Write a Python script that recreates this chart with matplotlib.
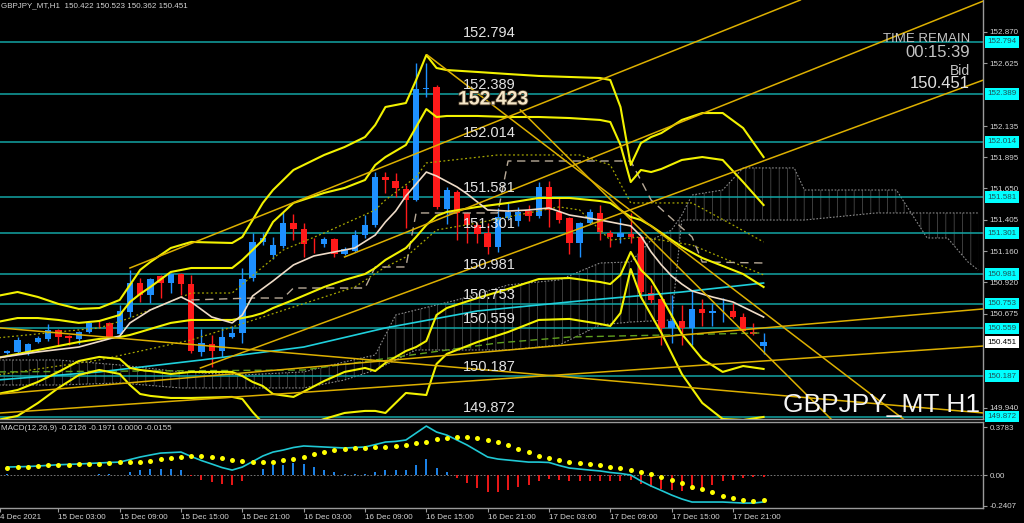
import matplotlib.pyplot as plt
import matplotlib.transforms as mtransforms
import matplotlib.patheffects as pe
import numpy as np

plt.rcParams['font.family'] = ['Liberation Sans', 'DejaVu Sans']
plt.rcParams['hatch.linewidth'] = 0.5
plt.rcParams['hatch.color'] = '#565656'

# ---- GBPJPY H1 candles, bar index -1 .. 74
bars = np.arange(-1, 75)
opens = [150.414, 150.368, 150.376, 150.376, 150.453, 150.477, 150.547, 150.500, 150.477, 150.531,
         150.605, 150.602, 150.516, 150.687, 150.913, 150.820, 150.968, 150.913, 150.983, 150.905,
         150.376, 150.438, 150.383, 150.492, 150.524, 150.952, 151.233, 151.132, 151.202, 151.381,
         151.334, 151.228, 151.217, 151.256, 151.139, 151.163, 151.287, 151.365, 151.739, 151.708,
         151.646, 151.560, 152.425, 152.441, 151.490, 151.623, 151.459, 151.365, 151.303, 151.194,
         151.420, 151.397, 151.474, 151.436, 151.662, 151.467, 151.420, 151.225, 151.381, 151.459,
         151.303, 151.272, 151.295, 151.272, 150.835, 150.789, 150.563, 150.617, 150.563, 150.711,
         150.679, 150.693, 150.695, 150.648, 150.531, 150.422]
highs = [150.430, 150.391, 150.492, 150.446, 150.500, 150.594, 150.555, 150.508, 150.539, 150.610,
         150.625, 150.610, 150.742, 151.015, 150.952, 150.952, 150.976, 150.990, 150.990, 150.976,
         150.555, 150.508, 150.570, 150.578, 151.030, 151.303, 151.303, 151.272, 151.467, 151.451,
         151.381, 151.264, 151.272, 151.264, 151.194, 151.326, 151.443, 151.778, 151.778, 151.771,
         151.677, 152.628, 152.628, 152.457, 151.660, 151.640, 151.470, 151.380, 151.381, 151.498,
         151.537, 151.506, 151.521, 151.700, 151.708, 151.576, 151.430, 151.390, 151.490, 151.521,
         151.326, 151.420, 151.459, 151.280, 150.898, 150.800, 150.820, 150.742, 150.859, 150.789,
         150.757, 150.796, 150.757, 150.679, 150.602, 150.523]
lows = [150.370, 150.360, 150.368, 150.352, 150.446, 150.461, 150.430, 150.430, 150.438, 150.524,
        150.563, 150.485, 150.508, 150.648, 150.765, 150.757, 150.796, 150.835, 150.820, 150.368,
        150.344, 150.259, 150.337, 150.485, 150.446, 150.929, 151.209, 151.100, 151.186, 151.248,
        151.116, 151.147, 151.194, 151.116, 151.132, 151.155, 151.264, 151.350, 151.615, 151.584,
        151.342, 151.550, 152.363, 151.490, 151.373, 151.248, 151.225, 151.225, 151.139, 151.155,
        151.410, 151.358, 151.397, 151.420, 151.350, 151.381, 151.139, 151.116, 151.370, 151.248,
        151.194, 151.225, 151.225, 150.796, 150.757, 150.430, 150.446, 150.430, 150.430, 150.578,
        150.578, 150.609, 150.640, 150.530, 150.508, 150.362]
closes = [150.383, 150.383, 150.469, 150.438, 150.485, 150.547, 150.492, 150.485, 150.531, 150.602,
          150.598, 150.492, 150.695, 150.913, 150.820, 150.944, 150.913, 150.983, 150.905, 150.385,
          150.446, 150.383, 150.492, 150.524, 150.944, 151.233, 151.264, 151.209, 151.381, 151.334,
          151.217, 151.222, 151.256, 151.139, 151.178, 151.287, 151.365, 151.739, 151.716, 151.654,
          151.560, 152.425, 152.433, 151.506, 151.638, 151.459, 151.365, 151.295, 151.194, 151.428,
          151.467, 151.467, 151.436, 151.662, 151.482, 151.404, 151.225, 151.381, 151.467, 151.311,
          151.272, 151.303, 151.272, 150.843, 150.781, 150.563, 150.617, 150.563, 150.711, 150.679,
          150.695, 150.697, 150.648, 150.539, 150.516, 150.451]

# ---- Bollinger bands (two deviations), read at these bars
bb_k = [-1, 1, 3, 5, 7, 9, 11, 12, 13, 14, 16, 18, 22, 23, 24, 25, 26, 28, 31, 33, 35, 36,
        37, 39, 40, 41, 42, 43, 46, 49, 52, 55, 58, 59, 60, 61, 62, 63, 64, 66, 68, 70, 72, 74]
bb_up3 = [150.812, 150.843, 150.804, 150.750, 150.711, 150.718, 150.781, 150.898, 151.015, 151.077, 151.186,
          151.233, 151.225, 151.272, 151.404, 151.537, 151.638, 151.794, 151.911, 151.973, 152.051, 152.145,
          152.285, 152.316, 152.495, 152.690, 152.589, 152.573, 152.558, 152.542, 152.527, 152.519, 152.511,
          152.495, 152.285, 151.833, 152.004, 152.051, 152.082, 152.184, 152.238, 152.238, 152.121, 151.895]
bb_up2 = [150.609, 150.640, 150.640, 150.625, 150.602, 150.617, 150.664, 150.765, 150.828, 150.882, 150.999,
          151.030, 151.030, 151.093, 151.170, 151.248, 151.389, 151.537, 151.615, 151.654, 151.716, 151.833,
          151.895, 151.989, 152.129, 152.269, 152.207, 152.215, 152.215, 152.207, 152.207, 152.199, 152.184,
          152.168, 151.989, 151.700, 151.794, 151.778, 151.802, 151.872, 151.895, 151.872, 151.700, 151.521]
bb_mid = [150.329, 150.360, 150.391, 150.422, 150.453, 150.477, 150.492, 150.508, 150.531, 150.555, 150.602,
          150.625, 150.625, 150.640, 150.656, 150.679, 150.718, 150.781, 150.882, 150.937, 150.983, 151.030,
          151.093, 151.186, 151.272, 151.365, 151.436, 151.467, 151.506, 151.537, 151.576, 151.576, 151.552,
          151.537, 151.482, 151.428, 151.404, 151.358, 151.303, 151.194, 151.108, 151.046, 150.983, 150.882]
bb_lo2 = [150.048, 150.079, 150.142, 150.220, 150.305, 150.337, 150.321, 150.251, 150.235, 150.227, 150.204,
          150.220, 150.220, 150.188, 150.142, 150.110, 150.048, 150.025, 150.149, 150.220, 150.251, 150.227,
          150.290, 150.383, 150.414, 150.461, 150.664, 150.718, 150.796, 150.867, 150.944, 150.952, 150.921,
          150.905, 150.976, 151.155, 151.015, 150.937, 150.804, 150.516, 150.321, 150.220, 150.266, 150.243]
bb_lo3 = [149.845, 149.877, 149.978, 150.095, 150.196, 150.235, 150.204, 150.118, 150.048, 150.033, 150.017,
          150.017, 150.025, 150.009, 149.908, 149.822, 149.799, 149.767, 149.853, 149.900, 149.916, 149.916,
          149.900, 150.056, 150.048, 150.040, 150.282, 150.360, 150.453, 150.531, 150.625, 150.633, 150.594,
          150.578, 150.679, 151.022, 150.804, 150.664, 150.524, 150.204, 149.978, 149.853, 149.845, 149.869]

# ---- moving averages
ma_k = [-1, 3, 7, 11, 12, 14, 17, 18, 20, 22, 23, 24, 26, 28, 30, 32, 34, 36, 37, 38, 39,
        41, 42, 44, 45, 47, 49, 51, 53, 55, 58, 61, 62, 63, 64, 65, 66, 67, 69, 71, 74]
ma_fast = [150.329, 150.376, 150.414, 150.500, 150.602, 150.703, 150.804, 150.765, 150.648, 150.602,
           150.664, 150.812, 150.929, 151.054, 151.124, 151.155, 151.186, 151.287, 151.389, 151.474,
           151.591, 151.778, 151.747, 151.662, 151.607, 151.482, 151.474, 151.482, 151.498, 151.443,
           151.404, 151.358, 151.279, 151.155, 151.054, 150.968, 150.905, 150.851, 150.804, 150.765, 150.648]
slow_k = [-1, 9, 19, 29, 37, 46, 56, 66, 74]
ma_slow = [150.157, 150.220, 150.313, 150.414, 150.563, 150.695, 150.773, 150.843, 150.913]
kijun_k = [18, 24, 27, 28, 35, 36, 39, 40, 48, 49, 61, 63, 67, 68, 74]
kijun = [150.781, 150.796, 150.796, 150.874, 150.874, 151.038, 151.038, 151.459, 151.459,
         151.864, 151.864, 151.560, 151.272, 151.077, 151.069]
chikou_k = [-1, 29, 36, 48, 55, 74]
chikou = [150.220, 150.235, 150.313, 150.446, 150.492, 150.524]
env_up_k = [-1, 4, 9, 12, 18, 22, 25, 27, 31, 36, 37, 40, 41, 48, 56, 59, 61, 67, 71, 74]
env_up = [150.485, 150.524, 150.563, 150.640, 150.835, 150.835, 151.038, 151.170, 151.303, 151.482,
          151.560, 151.739, 151.849, 151.911, 151.911, 151.833, 151.537, 151.537, 151.365, 151.233]
env_lo_k = [-1, 9, 18, 22, 28, 34, 37, 39, 42, 46, 49, 54, 56, 59, 62, 67, 74]
env_lo = [150.196, 150.313, 150.469, 150.570, 150.726, 150.882, 151.038, 151.116, 151.326,
          151.381, 151.428, 151.506, 151.482, 151.248, 151.272, 151.209, 150.976]

# ---- Ichimoku cloud (shifted forward)
cloud_k = [-1, 5, 11, 17, 23, 29, 33, 36, 38, 40, 44, 49, 54, 58, 61, 63, 65, 66, 67,
           70, 72, 77, 78, 85, 87, 90, 92, 94, 95]
span_a = [150.313, 150.313, 150.274, 150.220, 150.196, 150.220, 150.298, 150.352, 150.664, 150.703,
          150.781, 150.898, 150.937, 151.069, 151.077, 151.248, 151.326, 151.443, 151.599, 151.638,
          151.810, 151.810, 151.638, 151.638, 151.638, 151.264, 151.264, 151.077, 151.015]
span_b = [150.118, 150.118, 150.134, 150.095, 150.095, 150.095, 150.157, 150.235, 150.313, 150.391,
          150.391, 150.391, 150.430, 150.586, 150.609, 150.617, 150.625, 151.404, 151.404, 151.404,
          151.404, 151.404, 151.404, 151.459, 151.459, 151.459, 151.459, 151.459, 151.459]

# ---- trend lines: (bar, price) -> (bar, price)
trend_lines = [
    ((12.0, 151.030), (77.6, 153.119)),
    ((33.0, 151.116), (95.5, 153.111)),
    ((18.9, 150.251), (95.5, 152.495)),
    ((-0.7, 150.563), (95.5, 149.900)),
    ((-0.7, 150.048), (95.5, 150.711)),
    ((-0.7, 149.900), (95.5, 150.422)),
    ((41.1, 152.690), (87.8, 149.845)),
    ((50.2, 152.262), (80.7, 149.845)),
]

levels = [152.794, 152.389, 152.014, 151.581, 151.301, 150.981, 150.753, 150.559, 150.187, 149.872]
price_ticks = [152.870, 152.625, 152.135, 151.895, 151.650, 151.405, 151.160, 150.920, 150.675, 149.940]

# ---- MACD(12,26,9), bars 0 .. 74
macd_bars = np.arange(0, 75)
macd_main = [0.063, 0.065, 0.067, 0.071, 0.076, 0.081, 0.084, 0.087, 0.091, 0.095, 0.099, 0.102,
             0.122, 0.142, 0.158, 0.173, 0.177, 0.181, 0.146, 0.114, 0.087, 0.059, 0.039, 0.063,
             0.106, 0.150, 0.181, 0.197, 0.217, 0.229, 0.225, 0.221, 0.217, 0.213, 0.217, 0.221,
             0.240, 0.260, 0.265, 0.276, 0.331, 0.386, 0.339, 0.315, 0.276, 0.236, 0.189, 0.142,
             0.126, 0.118, 0.110, 0.102, 0.102, 0.099, 0.075, 0.055, 0.047, 0.039, 0.032, 0.020,
             0.012, 0.000, -0.047, -0.087, -0.122, -0.158, -0.189, -0.213, -0.213, -0.213, -0.213,
             -0.217, -0.221, -0.221, -0.2126]
macd_signal = [0.058, 0.065, 0.065, 0.071, 0.076, 0.081, 0.081, 0.084, 0.089, 0.089, 0.092, 0.100,
               0.102, 0.105, 0.113, 0.124, 0.132, 0.142, 0.150, 0.150, 0.142, 0.132, 0.118, 0.113,
               0.105, 0.102, 0.105, 0.116, 0.124, 0.144, 0.165, 0.184, 0.197, 0.207, 0.210, 0.210,
               0.218, 0.223, 0.229, 0.236, 0.250, 0.262, 0.281, 0.294, 0.302, 0.302, 0.289, 0.276,
               0.258, 0.236, 0.203, 0.179, 0.152, 0.132, 0.118, 0.102, 0.092, 0.084, 0.076, 0.065,
               0.058, 0.042, 0.026, 0.010, -0.013, -0.039, -0.065, -0.092, -0.113, -0.136, -0.163,
               -0.179, -0.195, -0.203, -0.1971]

time_ticks = [5, 11, 17, 23, 29, 35, 41, 47, 53, 59, 65, 71]
time_labels = ['15 Dec 03:00', '15 Dec 09:00', '15 Dec 15:00', '15 Dec 21:00', '16 Dec 03:00',
               '16 Dec 09:00', '16 Dec 15:00', '16 Dec 21:00', '17 Dec 03:00', '17 Dec 09:00',
               '17 Dec 15:00', '17 Dec 21:00']

BULL = '#1e90ff'
BEAR = '#ff1a1a'
GRID = '#9a9a9a'
TXT = '#d4d4d4'

fig = plt.figure(figsize=(10.24, 5.23), dpi=100, facecolor='black')
ax = fig.add_axes([0, 104 / 523, 983 / 1024, 419 / 523], facecolor='black')
mx = fig.add_axes([0, 15 / 523, 983 / 1024, 86 / 523], facecolor='black')

xl = (-0.714, 95.47)
ax.set_xlim(*xl)
ax.set_ylim(149.853, 153.119)
mx.set_xlim(*xl)
mx.set_ylim(-0.260, 0.418)

# cloud
ax.fill_between(cloud_k, span_a, span_b, facecolor='none', edgecolor='#565656',
                hatch='||', linewidth=0, zorder=1)
ax.plot(cloud_k, span_a, color='#8a8a8a', lw=0.8, ls=(0, (1.5, 1.5)), zorder=1)
ax.plot(cloud_k, span_b, color='#8a8a8a', lw=0.8, ls=(0, (1.5, 1.5)), zorder=1)

# horizontal levels
for lv in levels:
    ax.axhline(lv, color='#13a4a4', lw=1.1, zorder=2)

# candles
for k, o, h, l, c in zip(bars, opens, highs, lows, closes):
    col = BULL if c >= o else BEAR
    ax.vlines(k, l, h, color=col, lw=1.0, zorder=3)
    ax.bar(k, max(abs(c - o), 0.004), bottom=min(o, c), width=0.62, color=col, lw=0, zorder=3)

# indicators
ax.plot(env_up_k, env_up, color='#a8a800', lw=0.9, ls=(0, (1.5, 2)), zorder=4)
ax.plot(env_lo_k, env_lo, color='#a8a800', lw=0.9, ls=(0, (1.5, 2)), zorder=4)
ax.plot(chikou_k, chikou, color='#5f9f1f', lw=1.0, ls=(0, (5, 3)), zorder=4)
ax.plot(kijun_k, kijun, color='#b8aa98', lw=1.0, ls=(0, (6, 4)), zorder=4)
ax.plot(slow_k, ma_slow, color='#1fd0dc', lw=1.2, zorder=4)
for band in (bb_up3, bb_up2, bb_mid, bb_lo2, bb_lo3):
    ax.plot(bb_k, band, color='#f2f200', lw=1.5, zorder=5)
ax.plot(ma_k, ma_fast, color='#efdcc8', lw=1.2, zorder=5)
for (x0, y0), (x1, y1) in trend_lines:
    ax.plot([x0, x1], [y0, y1], color='#ddb000', lw=1.1, zorder=5)

# level labels on chart
for lv in levels:
    ax.annotate(f'{lv:.3f}', (44.6, lv), xytext=(0, 6.5), textcoords='offset points',
                va='center', ha='left', fontsize=10.5, color='#e2e2e2', zorder=6)
ax.text(44.1, 152.340, '152.423', fontsize=14, fontweight='bold', color='#f6e7c8',
        va='center', ha='left', zorder=6,
        path_effects=[pe.withStroke(linewidth=1.2, foreground='#4a3c28')])

# price axis
ax.yaxis.tick_right()
ax.set_yticks(price_ticks)
ax.set_yticklabels([f'{p:.3f}' for p in price_ticks])
ax.tick_params(axis='y', colors=GRID, labelcolor=TXT, labelsize=5.8, length=3, width=0.8, pad=1.5)
ax.set_xticks([])
for s in ('top', 'left'):
    ax.spines[s].set_visible(False)
for s in ('right', 'bottom'):
    ax.spines[s].set_color(GRID)
    ax.spines[s].set_linewidth(1.0)

blend = mtransforms.blended_transform_factory(ax.transAxes, ax.transData)
for lv in levels:
    ax.text(1.0045, lv, f'{lv:.3f}', transform=blend, ha='left', va='center', fontsize=5.8,
            color='#1f5055', bbox=dict(boxstyle='square,pad=0.3', fc='#00ffff', ec='none'))
ax.text(1.0045, closes[-1], f'{closes[-1]:.3f}', transform=blend, ha='left', va='center',
        fontsize=5.8, color='#000000', bbox=dict(boxstyle='square,pad=0.3', fc='#ffffff', ec='none'))

# MACD window
hist = np.array(macd_main) - np.array(macd_signal)
mx.axhline(0, color='#8a8a8a', lw=0.6, ls=(0, (2, 2)))
mx.vlines(macd_bars, 0, hist, colors=[BULL if h > 0 else BEAR for h in hist], lw=1.3)
mx.plot(macd_bars, macd_main, color='#20c8d4', lw=1.2)
mx.plot(macd_bars, macd_signal, 'o', color='#ffff00', ms=3.6, mec='none')
mx.yaxis.tick_right()
mx.set_yticks([0.3783, 0.0, -0.2407])
mx.set_yticklabels(['0.3783', '0.00', '-0.2407'])
mx.tick_params(axis='y', colors=GRID, labelcolor=TXT, labelsize=5.8, length=3, width=0.8, pad=1.5)
mx.set_xticks([-0.714] + time_ticks)
mx.set_xticklabels(['4 Dec 2021'] + time_labels)
mx.tick_params(axis='x', colors=GRID, labelcolor=TXT, labelsize=5.8, length=3, width=0.8, pad=1.5)
for lbl in mx.get_xticklabels():
    lbl.set_horizontalalignment('left')
mx.spines['left'].set_visible(False)
for s in ('top', 'right', 'bottom'):
    mx.spines[s].set_color(GRID)
    mx.spines[s].set_linewidth(1.0)

# texts
fig.text(1 / 1024, 1 - 6 / 523, 'GBPJPY_MT,H1  150.422 150.523 150.362 150.451',
         fontsize=5.8, color=TXT, ha='left', va='center')
fig.text(1 / 1024, 1 - 428 / 523, 'MACD(12,26,9) -0.2126 -0.1971 0.0000 -0.0155',
         fontsize=5.8, color=TXT, ha='left', va='center')
fig.text(970 / 1024, 1 - 38.5 / 523, 'TIME REMAIN', fontsize=9.5, color='#c4c4c4', ha='right', va='center')
fig.text(970 / 1024, 1 - 52.5 / 523, '00:15:39', fontsize=12, color='#c4c4c4', ha='right', va='center')
fig.text(970 / 1024, 1 - 71 / 523, 'Bid', fontsize=10, color='#c4c4c4', ha='right', va='center')
fig.text(970 / 1024, 1 - 83.5 / 523, '150.451', fontsize=12, color='#e0e0e0', ha='right', va='center')
fig.text(980 / 1024, 1 - 405 / 523, 'GBPJPY_MT H1', fontsize=19, color='#f4f4f4',
         ha='right', va='center')

fig.savefig('out.png', dpi=100, facecolor='black')
